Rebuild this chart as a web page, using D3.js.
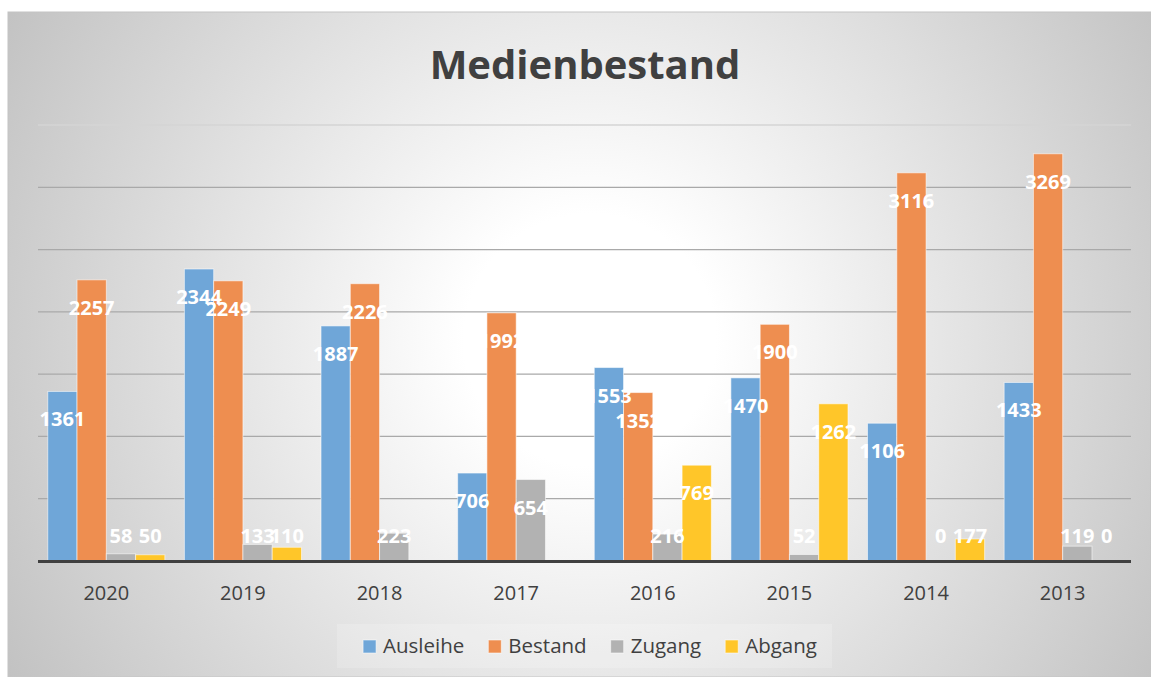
<!DOCTYPE html>
<html>
  <head>
    <title>Medienbestand</title>
    <script src="https://d3js.org/d3.v7.min.js"></script>
    <style>
      body { margin: 0; background: #fff; }
      text { font-family: "Open Sans", sans-serif; }
    </style>
  </head>
  <body>
    <div id="chart"></div>
    <script>
      // Data
      var categories = ["2020", "2019", "2018", "2017", "2016", "2015", "2014", "2013"];
      var seriesNames = ["Ausleihe", "Bestand", "Zugang", "Abgang"];
      var ausleihe = [1361, 2344, 1887, 706, 1553, 1470, 1106, 1433];
      var bestand  = [2257, 2249, 2226, 1992, 1352, 1900, 3116, 3269];
      var zugang   = [58, 133, 223, 654, 216, 52, 0, 119];
      var abgang   = [50, 110, null, null, 769, 1262, 177, 0];
      var yTicks   = [0, 500, 1000, 1500, 2000, 2500, 3000, 3500];

      var colors = ["#6FA6D8", "#EE8E50", "#B2B2B2", "#FFC629"];
      var values = [ausleihe, bestand, zugang, abgang];

      var width = 1151, height = 677;

      var svg = d3.select("#chart")
        .append("svg")
        .attr("width", width)
        .attr("height", height);

      // Background gradient
      var defs = svg.append("defs");
      var grad = defs.append("radialGradient")
        .attr("id", "bg")
        .attr("gradientUnits", "userSpaceOnUse")
        .attr("cx", 590).attr("cy", 340).attr("r", 700);
      grad.append("stop").attr("offset", "0").attr("stop-color", "#ffffff");
      grad.append("stop").attr("offset", "0.18").attr("stop-color", "#ffffff");
      grad.append("stop").attr("offset", "1").attr("stop-color", "#bfbfbf");

      svg.append("rect")
        .attr("x", 8).attr("y", 12)
        .attr("width", width - 8).attr("height", height - 12)
        .attr("fill", "url(#bg)")
        .attr("stroke", "#c4c4c4")
        .attr("stroke-width", 1);

      // Title
      svg.append("text")
        .attr("x", 585)
        .attr("y", 79)
        .attr("text-anchor", "middle")
        .attr("font-size", 40)
        .attr("font-weight", "bold")
        .attr("fill", "#404040")
        .text("Medienbestand");

      // Scales
      var x0 = d3.scaleBand()
        .domain(categories)
        .range([38, 1131])
        .paddingInner(0.143)
        .paddingOuter(0.0715);

      var x1 = d3.scaleBand()
        .domain(seriesNames)
        .range([0, x0.bandwidth()]);

      var y = d3.scaleLinear()
        .domain([0, 3500])
        .range([561, 125]);

      // Gridlines
      svg.append("g")
        .selectAll("line")
        .data(yTicks.slice(1))
        .enter()
        .append("line")
        .attr("x1", 38).attr("x2", 1131)
        .attr("y1", function(d) { return y(d); })
        .attr("y2", function(d) { return y(d); })
        .attr("stroke", function(d) { return d === 3500 ? "#d4d4d4" : "#a9a9a9"; })
        .attr("stroke-width", 1.3);

      // Bars
      var groups = svg.append("g")
        .selectAll("g")
        .data(seriesNames)
        .enter()
        .append("g")
        .attr("fill", function(d, i) { return colors[i]; });

      groups.selectAll("rect")
        .data(function(name, i) {
          return categories.map(function(c, j) {
            return { cat: c, series: name, value: values[i][j] };
          }).filter(function(d) { return d.value !== null; });
        })
        .enter()
        .append("rect")
        .attr("x", function(d) { return x0(d.cat) + x1(d.series); })
        .attr("y", function(d) { return y(d.value); })
        .attr("width", x1.bandwidth())
        .attr("height", function(d) { return y(0) - y(d.value); })
        .attr("stroke", "rgba(255,255,255,0.55)")
        .attr("stroke-width", 1);

      // X axis line
      svg.append("line")
        .attr("x1", 38).attr("x2", 1131)
        .attr("y1", 561.5).attr("y2", 561.5)
        .attr("stroke", "#404040")
        .attr("stroke-width", 3);

      // Category labels
      svg.append("g")
        .selectAll("text")
        .data(categories)
        .enter()
        .append("text")
        .attr("x", function(d) { return x0(d) + x0.bandwidth() / 2; })
        .attr("y", 600)
        .attr("text-anchor", "middle")
        .attr("font-size", 20)
        .attr("fill", "#404040")
        .text(function(d) { return d; });

      // Data labels, drawn after all bars (they overlap like in the original)
      var labels = [];
      seriesNames.forEach(function(name, i) {
        categories.forEach(function(c, j) {
          if (values[i][j] !== null) labels.push({ cat: c, series: name, value: values[i][j] });
        });
      });

      svg.append("g")
        .selectAll("text")
        .data(labels)
        .enter()
        .append("text")
        .attr("x", function(d) { return x0(d.cat) + x1(d.series) + x1.bandwidth() / 2; })
        .attr("y", function(d) { return Math.min(y(d.value) + 35, 543); })
        .attr("text-anchor", "middle")
        .attr("font-size", 20)
        .attr("font-weight", "bold")
        .attr("fill", "#ffffff")
        .text(function(d) { return d.value; });

      // Legend
      svg.append("rect")
        .attr("x", 337).attr("y", 624)
        .attr("width", 495).attr("height", 44)
        .attr("fill", "rgba(255,255,255,0.18)");

      var legend = svg.append("g");
      var items = legend.selectAll("g")
        .data(seriesNames)
        .enter()
        .append("g");

      items.append("rect")
        .attr("width", 13).attr("height", 13)
        .attr("y", 640)
        .attr("fill", function(d, i) { return colors[i]; })
        .attr("stroke", "rgba(255,255,255,0.55)");

      items.append("text")
        .attr("x", 20)
        .attr("y", 653)
        .attr("font-size", 20.5)
        .attr("fill", "#404040")
        .text(function(d) { return d; });

      var widths = [];
      items.select("text").each(function() { widths.push(20 + this.getComputedTextLength()); });
      var gap = 24;
      var total = d3.sum(widths) + gap * (widths.length - 1);
      var start = 590 - total / 2;
      items.attr("transform", function(d, i) {
        var off = start + d3.sum(widths.slice(0, i)) + gap * i;
        return "translate(" + off + ",0)";
      });
    </script>
  </body>
</html>
